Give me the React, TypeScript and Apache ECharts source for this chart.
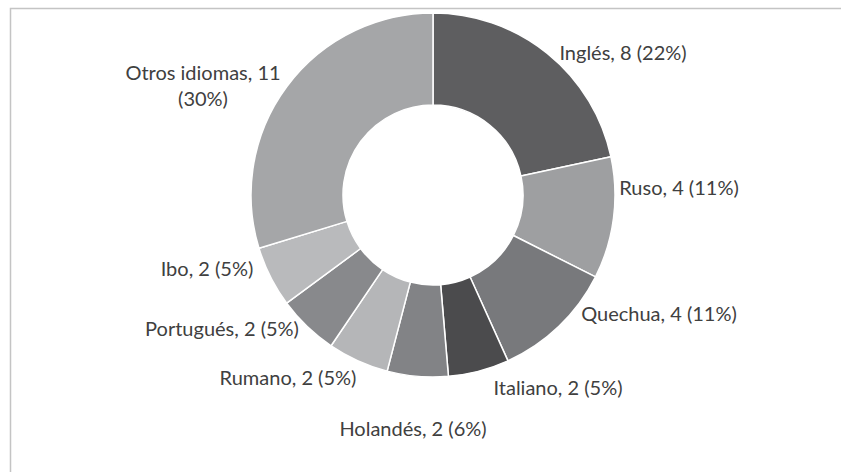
import React, { useEffect, useRef } from "react";
import * as echarts from "echarts";

const languages = ["Inglés", "Ruso", "Quechua", "Italiano", "Holandés", "Rumano", "Portugués", "Ibo", "Otros idiomas"];
const counts = [8, 4, 4, 2, 2, 2, 2, 2, 11];
const percentLabels = ["22%", "11%", "11%", "5%", "6%", "5%", "5%", "5%", "30%"];
const wrappedLabels = ["Otros idiomas"];

const sliceColors = ["#5e5e60", "#9e9fa1", "#78797c", "#4b4b4d", "#828386", "#b5b6b8", "#88898c", "#b9babc", "#a5a6a8"];
// label centres (px) as placed in the reference
const labelCentres: [number, number][] = [
  [623, 52], [679, 187], [659, 313], [558, 387], [413, 428],
  [288, 377], [222, 328], [207, 268], [203, 85],
];

export default function App() {
  const ref = useRef<HTMLDivElement>(null);
  useEffect(() => {
    if (!ref.current) return;
    const chart = echarts.init(ref.current, null, { renderer: "svg" });
    chart.setOption({
      animation: false,
      backgroundColor: "#ffffff",
      graphic: [
        {
          type: "rect",
          shape: { x: 10.5, y: 8.5, width: 900, height: 600 },
          style: { fill: "none", stroke: "#c4c4c4", lineWidth: 1.5 },
          silent: true,
        },
      ],
      series: [
        {
          type: "pie",
          center: [433, 195],
          radius: [90, 182],
          startAngle: 90,
          clockwise: true,
          avoidLabelOverlap: false,
          itemStyle: { borderColor: "#ffffff", borderWidth: 1.5 },
          label: {
            show: true,
            position: "outside",
            fontFamily: "Lato, sans-serif",
            fontSize: 20,
            color: "#404040",
            lineHeight: 26,
            align: "center",
            formatter: (p: any) => {
              const i = p.dataIndex;
              const sep = wrappedLabels.includes(languages[i]) ? "\n" : " ";
              return `${languages[i]}, ${counts[i]}${sep}(${percentLabels[i]})`;
            },
          },
          labelLine: { show: false },
          labelLayout: (params: any) => {
            const c = labelCentres[params.dataIndex];
            return { x: c[0], y: c[1], align: "center", verticalAlign: "middle" };
          },
          data: languages.map((name, i) => ({
            name,
            value: counts[i],
            itemStyle: { color: sliceColors[i] },
          })),
        },
      ],
    });
    return () => chart.dispose();
  }, []);
  return <div ref={ref} style={{ position: "fixed", left: 0, top: 0, width: 841, height: 472 }} />;
}
